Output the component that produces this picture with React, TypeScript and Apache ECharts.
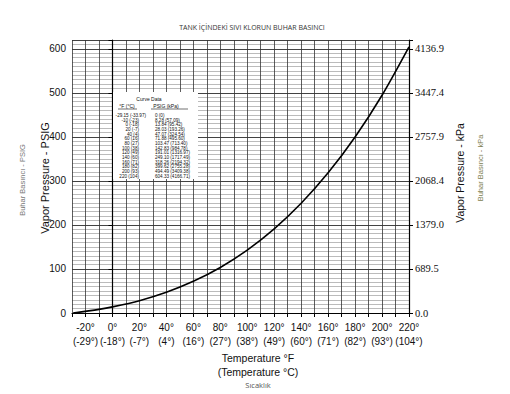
import React, { useEffect, useRef } from "react";
import * as echarts from "echarts";

// Curve data (from the embedded table)
const fahrenheit = [-29.15, -10, 0, 20, 40, 60, 80, 100, 120, 140, 160, 180, 200, 220];
const celsius = [-33.97, -23, -18, -7, 4, 16, 27, 38, 49, 60, 71, 82, 93, 104];
const psig = [0, 8.28, 13.84, 28.03, 47.07, 71.88, 103.47, 142.83, 191.01, 249.1, 318.26, 399.62, 494.49, 604.33];
const kpa = [0, 57.09, 95.42, 193.26, 324.54, 495.6, 713.4, 984.78, 1316.97, 1717.49, 2194.32, 2755.28, 3409.38, 4166.71];

// Tick labels
const xTickF = [-20, 0, 20, 40, 60, 80, 100, 120, 140, 160, 180, 200, 220];
const xTickC = [-29, -18, -7, 4, 16, 27, 38, 49, 60, 71, 82, 93, 104];
const yTicks = [0, 100, 200, 300, 400, 500, 600];
const kpaTickLabels = ["0.0", "689.5", "1379.0", "2068.4", "2757.9", "3447.4", "4136.9"];

const fmt = (v: number) => (v === 0 ? "0" : v.toFixed(2));

export default function App() {
  const ref = useRef<HTMLDivElement>(null);
  useEffect(() => {
    document.body.style.margin = "0";
    if (!ref.current) return;
    const chart = echarts.init(ref.current, undefined, { renderer: "svg" });
    const sans = "Liberation Sans";
    const rowY0 = 115.7;
    const rowStep = 4.64;
    const tableTexts: any[] = [];
    fahrenheit.forEach((f, i) => {
      tableTexts.push({
        type: "text",
        z: 21,
        style: {
          x: i === 0 ? 146 : 139,
          y: rowY0 + i * rowStep,
          text: `${f} (${celsius[i]})`,
          font: `4.6px ${sans}`,
          fill: "#111",
          align: "right",
          verticalAlign: "middle",
        },
      });
      tableTexts.push({
        type: "text",
        z: 21,
        style: {
          x: 155,
          y: rowY0 + i * rowStep,
          text: `${fmt(psig[i])} (${fmt(kpa[i])})`,
          font: `4.6px ${sans}`,
          fill: "#111",
          align: "left",
          verticalAlign: "middle",
        },
      });
    });

    const option: any = {
      animation: false,
      backgroundColor: "#fff",
      grid: { left: 72, right: 101, top: 40, bottom: 81 },
      xAxis: {
        type: "value",
        min: -30,
        max: 220,
        interval: 10,
        axisLine: { show: true, lineStyle: { color: "#000", width: 1.2 } },
        axisTick: { show: true, length: 4, lineStyle: { color: "#000" } },
        axisLabel: {
          color: "#111",
          fontFamily: sans,
          fontSize: 10,
          lineHeight: 14,
          margin: 7,
          formatter: (v: number) => {
            const i = xTickF.indexOf(v);
            return i >= 0 ? `${v}°\n(${xTickC[i]}°)` : "";
          },
        },
        splitLine: { show: true, lineStyle: { color: "#333", width: 0.8 } },
      },
      yAxis: [
        {
          type: "value",
          position: "left",
          min: 0,
          max: 620,
          interval: 100,
          axisLine: { show: true, lineStyle: { color: "#000", width: 1.2 } },
          axisTick: { show: true, length: 4, lineStyle: { color: "#000" } },
          axisLabel: {
            color: "#111",
            fontFamily: sans,
            fontSize: 10,
            margin: 6,
            formatter: (v: number) => (yTicks.indexOf(v) >= 0 ? String(v) : ""),
          },
          splitLine: { show: true, lineStyle: { color: "#111", width: 1.2 } },
        },
        {
          type: "value",
          position: "right",
          min: 0,
          max: 620,
          interval: 100,
          axisLine: { show: true, lineStyle: { color: "#000", width: 1.2 } },
          axisTick: { show: true, length: 4, lineStyle: { color: "#000" } },
          axisLabel: {
            color: "#111",
            fontFamily: "Liberation Serif",
            fontSize: 10.5,
            margin: 6,
            formatter: (v: number) => {
              const i = yTicks.indexOf(v);
              return i >= 0 ? kpaTickLabels[i] : "";
            },
          },
          splitLine: { show: false },
        },
        {
          type: "value",
          position: "left",
          min: 0,
          max: 620,
          interval: 10,
          axisLine: { show: false },
          axisTick: { show: false },
          axisLabel: { show: false },
          splitLine: { show: true, lineStyle: { color: "#777", width: 0.5 } },
        },
      ],
      series: [
        {
          type: "line",
          yAxisIndex: 0,
          data: fahrenheit.map((f, i) => [f, psig[i]]),
          smooth: 0.3,
          symbol: "none",
          lineStyle: { color: "#000", width: 1.6 },
          z: 5,
        },
      ],
      graphic: [
        {
          type: "text",
          z: 20,
          style: {
            x: 252,
            y: 27,
            text: "TANK İÇİNDEKİ SIVI KLORUN BUHAR BASINCI",
            font: "7px 'Open Sans'",
            fill: "#333",
            align: "center",
            verticalAlign: "middle",
          },
        },
        {
          type: "text",
          z: 20,
          rotation: Math.PI / 2,
          x: 45,
          y: 178,
          style: {
            x: 0,
            y: 0,
            text: "Vapor Pressure - PSIG",
            font: `11px ${sans}`,
            fill: "#111",
            align: "center",
            verticalAlign: "middle",
          },
        },
        {
          type: "text",
          z: 20,
          rotation: Math.PI / 2,
          x: 22,
          y: 180,
          style: {
            x: 0,
            y: 0,
            text: "Buhar Basıncı - PSIG",
            font: `7.5px ${sans}`,
            fill: "#777",
            align: "center",
            verticalAlign: "middle",
          },
        },
        {
          type: "text",
          z: 20,
          rotation: Math.PI / 2,
          x: 460,
          y: 173,
          style: {
            x: 0,
            y: 0,
            text: "Vapor Pressure - kPa",
            font: `10.5px ${sans}`,
            fill: "#111",
            align: "center",
            verticalAlign: "middle",
          },
        },
        {
          type: "text",
          z: 20,
          rotation: Math.PI / 2,
          x: 480,
          y: 168,
          style: {
            x: 0,
            y: 0,
            text: "Buhar Basıncı - kPa",
            font: `7.5px ${sans}`,
            fill: "#7d7d50",
            align: "center",
            verticalAlign: "middle",
          },
        },
        {
          type: "text",
          z: 20,
          style: {
            x: 258,
            y: 358,
            text: "Temperature °F",
            font: `10.5px ${sans}`,
            fill: "#111",
            align: "center",
            verticalAlign: "middle",
          },
        },
        {
          type: "text",
          z: 20,
          style: {
            x: 258,
            y: 372,
            text: "(Temperature °C)",
            font: `10.5px ${sans}`,
            fill: "#111",
            align: "center",
            verticalAlign: "middle",
          },
        },
        {
          type: "text",
          z: 20,
          style: {
            x: 258,
            y: 385,
            text: "Sıcaklık",
            font: "7.5px 'Open Sans'",
            fill: "#555",
            align: "center",
            verticalAlign: "middle",
          },
        },
        {
          type: "rect",
          z: 19,
          shape: { x: 113, y: 92, width: 85, height: 87 },
          style: { fill: "#fff" },
        },
        {
          type: "text",
          z: 21,
          style: {
            x: 149,
            y: 99,
            text: "Curve Data",
            font: `5px ${sans}`,
            fill: "#111",
            align: "center",
            verticalAlign: "middle",
          },
        },
        {
          type: "text",
          z: 21,
          style: {
            x: 127,
            y: 106,
            text: "°F (°C)",
            font: `5px ${sans}`,
            fill: "#111",
            align: "center",
            verticalAlign: "middle",
          },
        },
        {
          type: "text",
          z: 21,
          style: {
            x: 166,
            y: 106,
            text: "PSIG (kPa)",
            font: `5px ${sans}`,
            fill: "#111",
            align: "center",
            verticalAlign: "middle",
          },
        },
        {
          type: "line",
          z: 21,
          shape: { x1: 118, y1: 109, x2: 137, y2: 109 },
          style: { stroke: "#111", lineWidth: 0.6 },
        },
        {
          type: "line",
          z: 21,
          shape: { x1: 151, y1: 109, x2: 188, y2: 109 },
          style: { stroke: "#111", lineWidth: 0.6 },
        },
        ...tableTexts,
      ],
    };
    chart.setOption(option);
    return () => chart.dispose();
  }, []);
  return <div ref={ref} style={{ width: 510, height: 394 }} />;
}
